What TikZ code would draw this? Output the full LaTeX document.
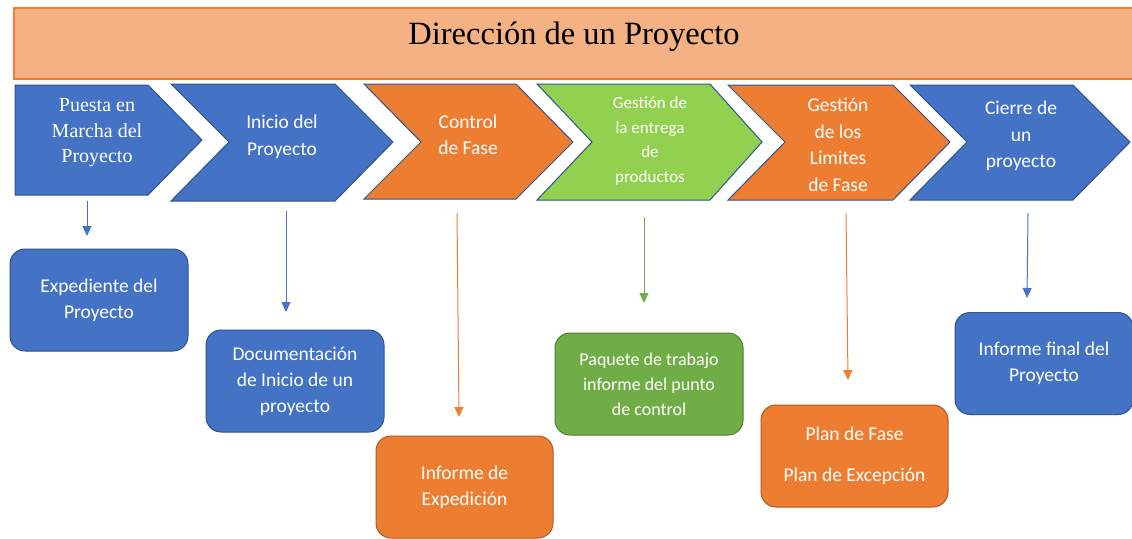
\documentclass[tikz,border=0pt]{standalone}
\usepackage{fontspec}
\setmainfont{Liberation Serif}
\newfontfamily\calibri{Carlito}
\usetikzlibrary{arrows.meta}
\definecolor{azul}{HTML}{4472C4}
\definecolor{azulborde}{HTML}{2F528F}
\definecolor{naranja}{HTML}{ED7D31}
\definecolor{naranjaborde}{HTML}{AE5A21}
\definecolor{salmon}{HTML}{F4B183}
\definecolor{verdeclaro}{HTML}{92D050}
\definecolor{verde}{HTML}{70AD47}
\definecolor{verdeborde}{HTML}{507E32}

\begin{document}
\begin{tikzpicture}[x=1pt, y=-1pt,
    chevron/.style={draw=azulborde, line width=1pt, line join=miter},
    etiqueta/.style={text=white, align=center, inner sep=0pt, font=\calibri\fontsize{19.5}{26.5}\selectfont},
    caja/.style={rounded corners=15pt, line width=1pt, minimum width=178pt, minimum height=102pt,
                 text=white, align=center, font=\calibri\fontsize{19.5}{26}\selectfont},
    flecha/.style={line width=1pt, -{Triangle[width=9pt,length=10pt]}}]
  \useasboundingbox (0,0) rectangle (1132,538);
  % titulo
  \draw[fill=salmon, draw=naranja, line width=1.5pt] (14,8) rectangle (1136,79);
  \node (titulo) at (574,37) {\fontsize{32.5}{38}\selectfont Dirección de un Proyecto};
  % fases
  \filldraw[chevron, fill=azul] (15,85) -- (148,85) -- (202,140) -- (148,195) -- (15,195) -- cycle;
  \filldraw[chevron, fill=azul] (171,84) -- (335,84) -- (393,142) -- (335,201) -- (171,201) -- (229,142) -- cycle;
  \filldraw[chevron, fill=naranja] (364,84) -- (516,84) -- (573,142) -- (516,199) -- (364,199) -- (421,142) -- cycle;
  \filldraw[chevron, fill=verdeclaro] (537,84) -- (710,84) -- (762,142) -- (710,200) -- (537,200) -- (592,142) -- cycle;
  \filldraw[chevron, fill=naranja] (728,85) -- (893,85) -- (950,142) -- (893,200) -- (728,200) -- (785,142) -- cycle;
  \filldraw[chevron, fill=azul] (910,85) -- (1073,85) -- (1130,142) -- (1073,200) -- (910,200) -- (967,142) -- cycle;
  \node[etiqueta, font=\fontsize{20}{25.5}\selectfont] (puesta) at (97,133) {Puesta en\\Marcha del\\Proyecto};
  \node[etiqueta] (inicio) at (282,137) {Inicio del\\Proyecto};
  \node[etiqueta] (control) at (468,135) {Control\\de Fase};
  \node[etiqueta, font=\calibri\fontsize{17}{24.5}\selectfont] (entrega) at (650,141) {Gestión de\\la entrega\\de\\productos};
  \node[etiqueta] (limites) at (838,145) {Gestión\\de los\\Limites\\de Fase};
  \node[etiqueta] (cierre) at (1021,136) {Cierre de\\un\\proyecto};
  % productos
  \node[caja, fill=azul, draw=azulborde] (expediente) at (99,300) {Expediente del\\Proyecto};
  \node[caja, fill=azul, draw=azulborde] (documentacion) at (295,381) {Documentación\\de Inicio de un\\proyecto};
  \node[caja, fill=naranja, draw=naranjaborde, minimum width=177pt] (expedicion) at (464.5,487) {Informe de\\Expedición};
  \node[caja, fill=verde, draw=verdeborde, minimum width=188pt, font=\calibri\fontsize{18}{25}\selectfont] (paquete) at (649,384) {Paquete de trabajo\\informe del punto\\de control};
  \node[caja, fill=naranja, draw=naranjaborde, minimum width=187pt] (planes) at (854.5,456) {Plan de Fase\\[15pt]Plan de Excepción};
  \node[caja, fill=azul, draw=azulborde] (final) at (1044,363.5) {Informe final del\\Proyecto};
  % flechas
  \coordinate (f1a) at (87,201);    \coordinate (f1b) at (87,236);
  \coordinate (f2a) at (286,211);   \coordinate (f2b) at (286,312);
  \coordinate (f3a) at (457,213);   \coordinate (f3b) at (459,417);
  \coordinate (f4a) at (644,217);   \coordinate (f4b) at (644,303);
  \coordinate (f5a) at (846,213);   \coordinate (f5b) at (848,380);
  \coordinate (f6a) at (1028,213);  \coordinate (f6b) at (1027,298);
  \draw[flecha, azul] (f1a) -- (f1b);
  \draw[flecha, azul] (f2a) -- (f2b);
  \draw[flecha, naranja] (f3a) -- (f3b);
  \draw[flecha, verde] (f4a) -- (f4b);
  \draw[flecha, naranja] (f5a) -- (f5b);
  \draw[flecha, azul] (f6a) -- (f6b);
\end{tikzpicture}
\end{document}
